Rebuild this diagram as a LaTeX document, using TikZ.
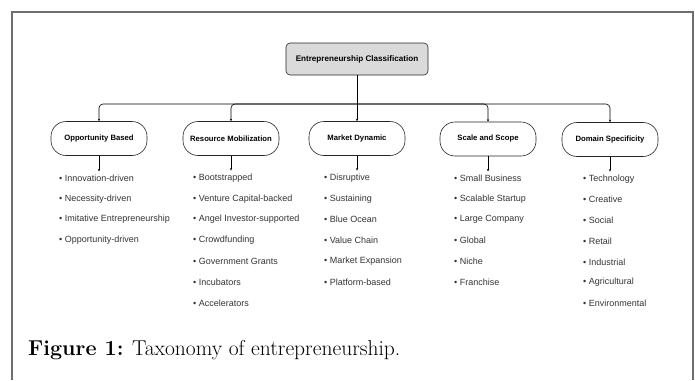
\documentclass[tikz,border=0pt]{standalone}
\usepackage{fontspec}
\setsansfont{Liberation Sans}
\usetikzlibrary{arrows.meta,calc}
\definecolor{framegray}{HTML}{6E6E6E}
\definecolor{rootgray}{HTML}{DADADA}
\definecolor{itemtext}{HTML}{333333}

\tikzset{
  rootbox/.style={draw=black!85, fill=rootgray, line width=0.6pt, rounded corners=4pt,
    minimum width=142pt, minimum height=32pt, font=\sffamily\bfseries\fontsize{8.1}{9}\selectfont},
  catbox/.style={draw=black!85, line width=0.6pt, rounded corners=15pt,
    minimum width=96pt, minimum height=34pt, font=\sffamily\bfseries\fontsize{7.7}{9}\selectfont},
  item/.style={anchor=west, inner sep=0pt, text=itemtext, font=\sffamily\fontsize{9}{10}\selectfont},
  link/.style={line width=0.6pt, -{Stealth[length=2.5pt,width=2.2pt]}},
}

\begin{document}
\begin{tikzpicture}[x=1pt,y=-1pt]
  \useasboundingbox (0,0) rectangle (695,380);
  % page frame, open at the bottom
  \draw[framegray, line width=1.2pt] (12,380) -- (12,12) -- (693,12) -- (693,380);

  \node[rootbox] (root) at (357,59) {Entrepreneurship Classification};
  \coordinate (bus) at (357,104);

  \node[catbox] (opp) at (99,138.5) {Opportunity Based};
  \node[catbox] (res) at (231,138.5) {Resource Mobilization};
  \node[catbox] (mkt) at (357,138.5) {Market Dynamic};
  \node[catbox] (scl) at (488,139) {Scale and Scope};
  \node[catbox] (dom) at (610,139.5) {Domain Specificity};

  % tree connectors
  \draw[line width=0.6pt] (root) -- (bus);
  \foreach \c in {opp,res,scl,dom}
    \draw[link, rounded corners=4pt] (bus) -| (\c);
  \draw[link] (bus) -- (mkt);

  % item lists
  \foreach \i/\t in {1/Innovation-driven, 2/Necessity-driven,
      3/Imitative Entrepreneurship, 4/Opportunity-driven}
    \node[item] (opp\i) at (59,{178+20.8*(\i-1)}) {\textbullet\ \t};
  \foreach \i/\t in {1/Bootstrapped, 2/Venture Capital-backed, 3/Angel Investor-supported,
      4/Crowdfunding, 5/Government Grants, 6/Incubators, 7/Accelerators}
    \node[item] (res\i) at (193,{178+20.8*(\i-1)}) {\textbullet\ \t};
  \foreach \i/\t in {1/Disruptive, 2/Sustaining, 3/Blue Ocean, 4/Value Chain,
      5/Market Expansion, 6/Platform-based}
    \node[item] (mkt\i) at (324,{178+20.8*(\i-1)}) {\textbullet\ \t};
  \foreach \i/\t in {1/Small Business, 2/Scalable Startup, 3/Large Company,
      4/Global, 5/Niche, 6/Franchise}
    \node[item] (scl\i) at (454,{178+20.8*(\i-1)}) {\textbullet\ \t};
  \foreach \i/\t in {1/Technology, 2/Creative, 3/Social, 4/Retail,
      5/Industrial, 6/Agricultural, 7/Environmental}
    \node[item] (dom\i) at (583,{179+20.7*(\i-1)}) {\textbullet\ \t};

  \foreach \c in {opp,res,mkt,scl,dom}
    \draw[link, shorten >=3pt] (\c.south) -- (\c.south |- \c1.north);

  \node[anchor=base west, inner sep=0pt, font=\fontsize{21.5}{24}\selectfont] (cap) at (28,355)
    {\textbf{Figure 1:} Taxonomy of entrepreneurship.};
\end{tikzpicture}
\end{document}
